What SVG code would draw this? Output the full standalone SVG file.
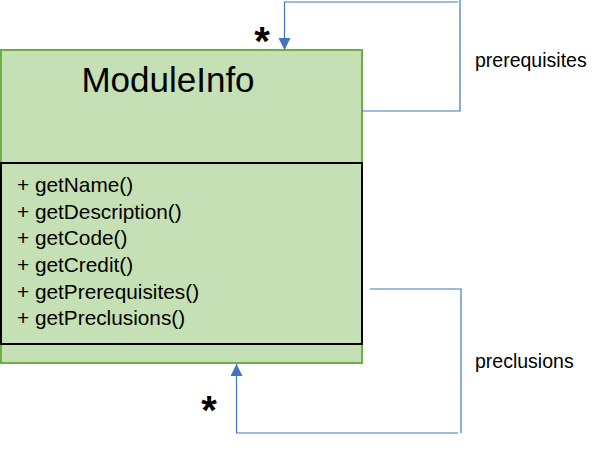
<svg xmlns="http://www.w3.org/2000/svg" width="601" height="453" viewBox="0 0 601 453">
<defs>
<style>
.conn{fill:none;stroke:#4472C4;stroke-width:1.2}
.t{font-family:"Liberation Sans",Arial,sans-serif;fill:#000}
.m{font-size:20.8px}
.lbl{font-size:19.5px}
.star{font-size:40px;font-weight:bold;text-anchor:middle}
</style>
<marker id="arr" markerUnits="userSpaceOnUse" markerWidth="14" markerHeight="14" refX="12" refY="6" orient="auto">
<path d="M0,0 L12,6 L0,12 Z" fill="#4472C4"/>
</marker>
</defs>
<g id="ModuleInfo">
<rect x="1" y="50" width="361" height="313" fill="#C5E0B4" stroke="#70AD47" stroke-width="2"/>
<rect x="1" y="163" width="361" height="181" fill="none" stroke="#000" stroke-width="2"/>
<text class="t" x="168" y="92" font-size="35" text-anchor="middle">ModuleInfo</text>
<text class="t m" x="17" y="192">+ getName()</text>
<text class="t m" x="17" y="218.7">+ getDescription()</text>
<text class="t m" x="17" y="245.3">+ getCode()</text>
<text class="t m" x="17" y="272">+ getCredit()</text>
<text class="t m" x="17" y="298.7">+ getPrerequisites()</text>
<text class="t m" x="17" y="325.3">+ getPreclusions()</text>
</g>
<g id="connectors">
<path class="conn" d="M362,111 H460 V0 M458,2 H284.5 V50" marker-end="url(#arr)"/>
<path class="conn" d="M370,289 H461 V433 M458,433 H236.5 V364" marker-end="url(#arr)"/>
<text class="t lbl" x="475" y="67">prerequisites</text>
<text class="t lbl" x="475" y="368">preclusions</text>
<text class="t star" x="262" y="55">*</text>
<text class="t star" x="209" y="424">*</text>
</g>
</svg>
